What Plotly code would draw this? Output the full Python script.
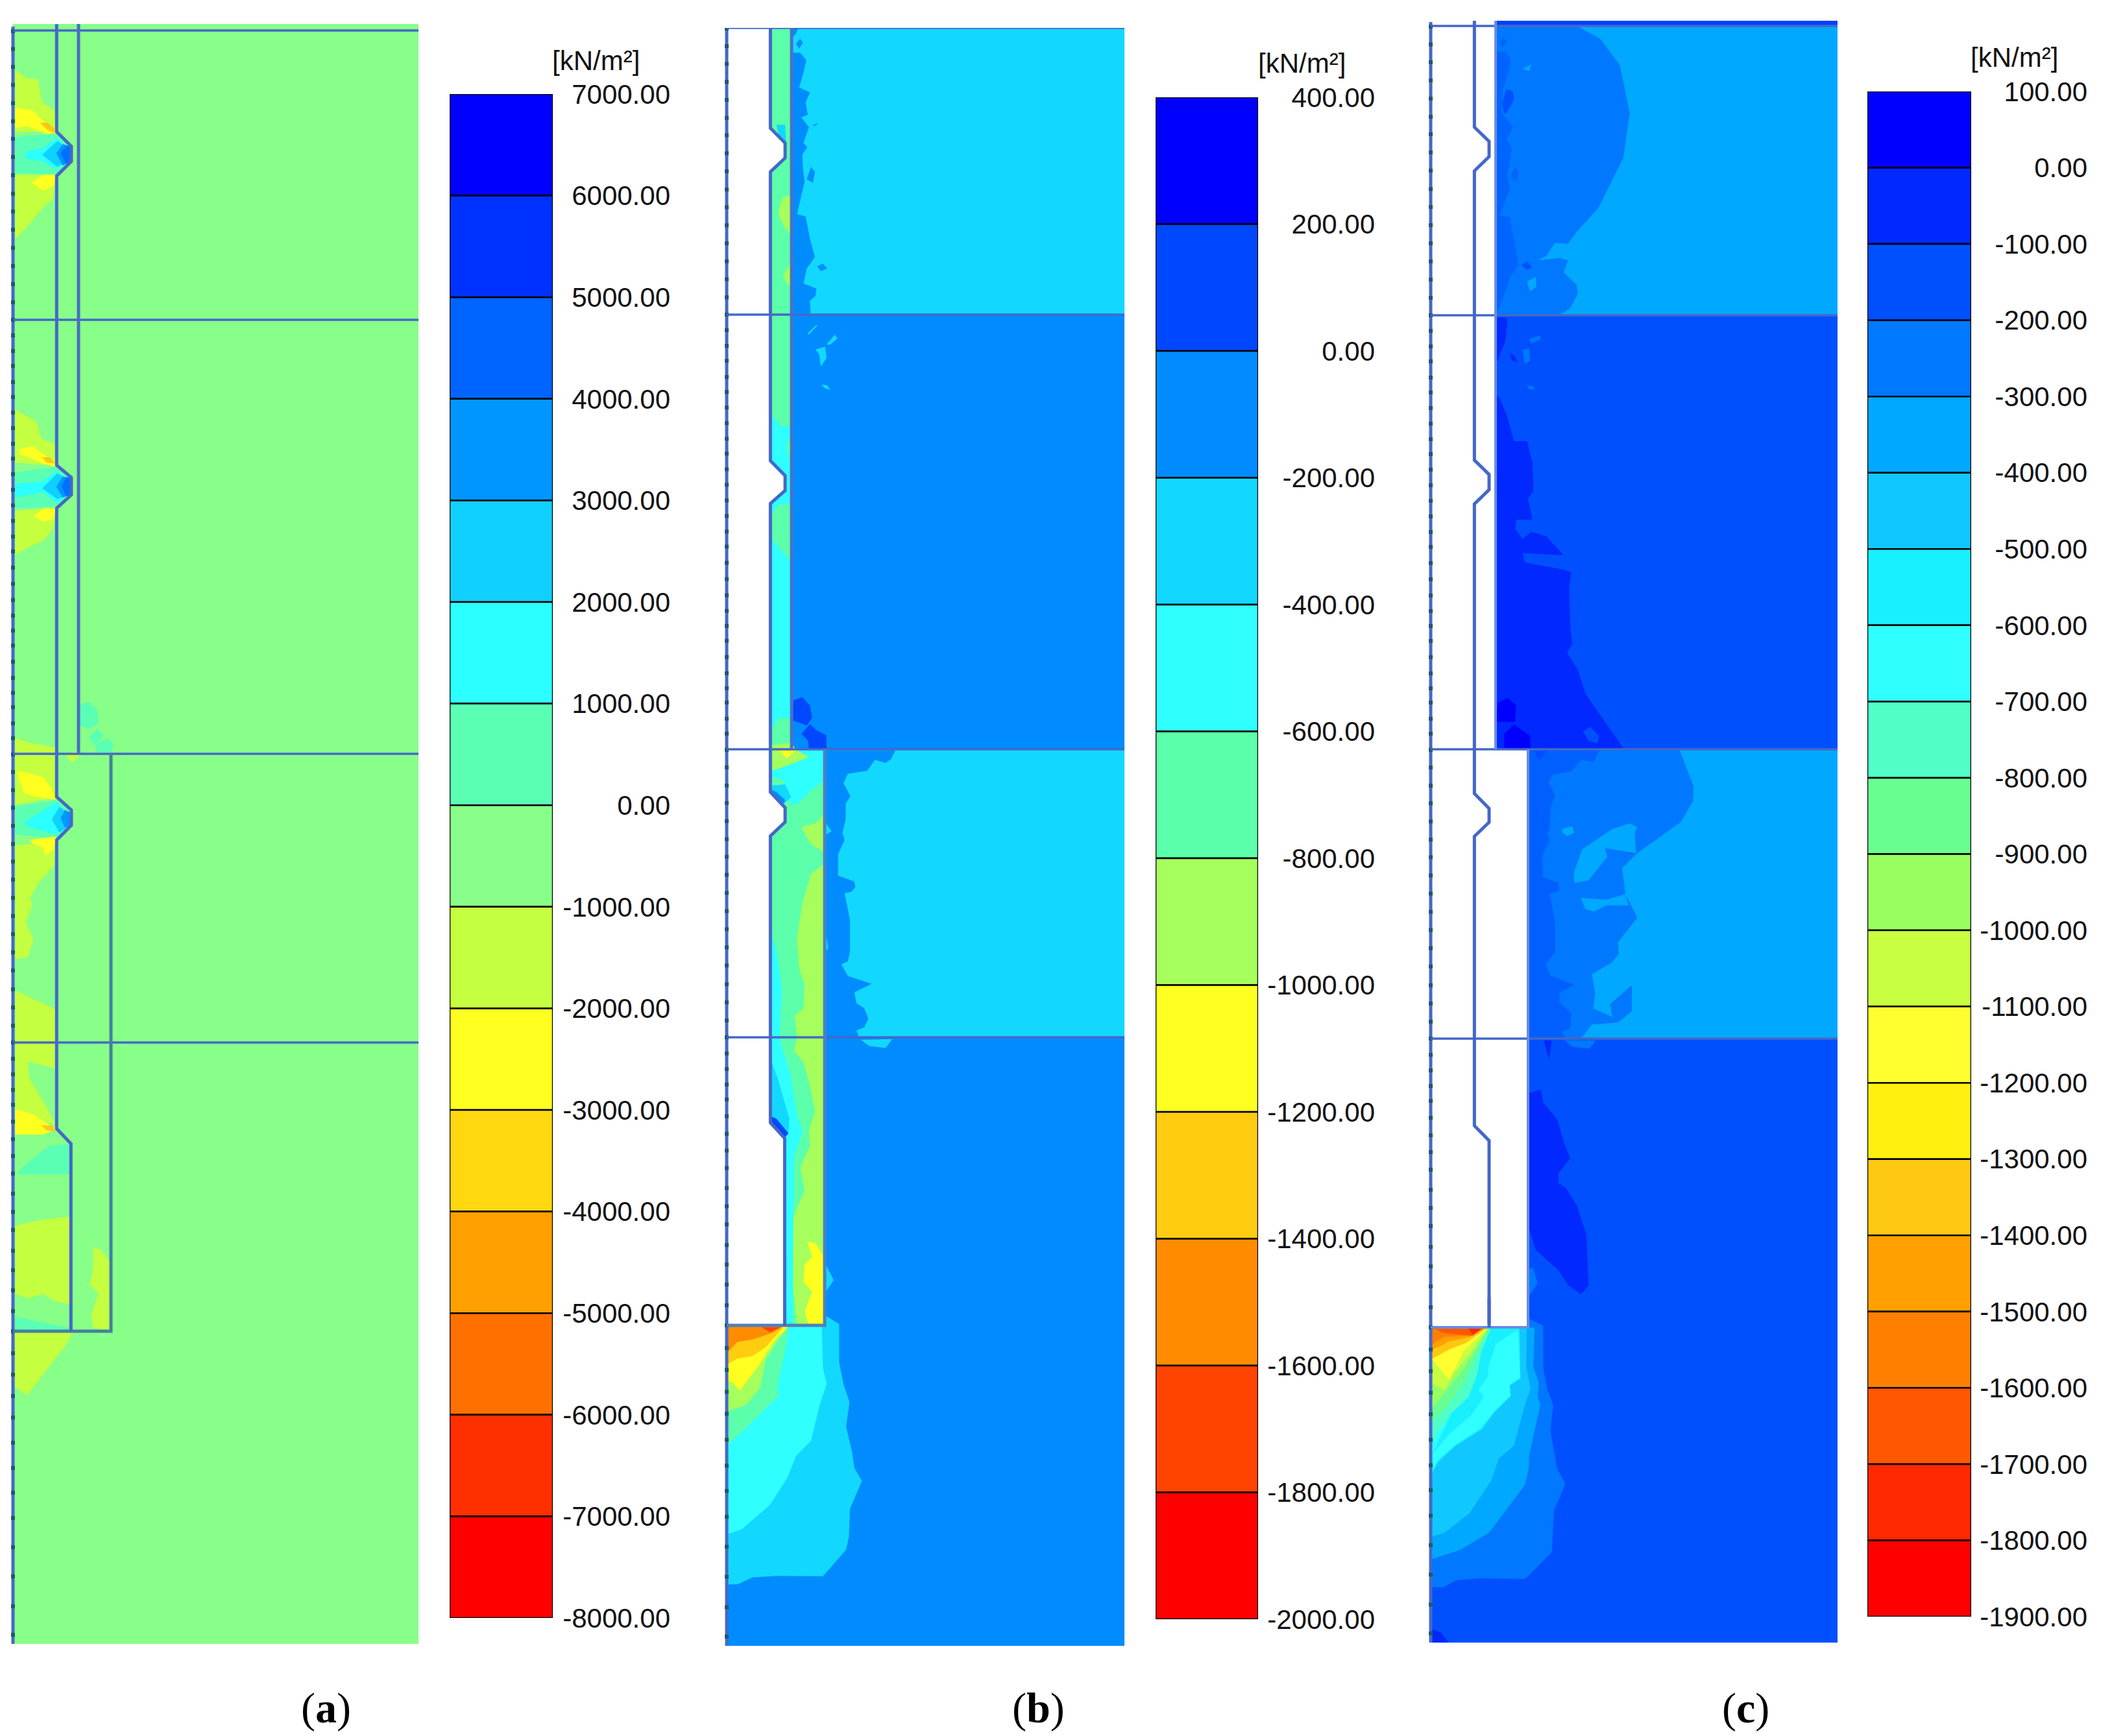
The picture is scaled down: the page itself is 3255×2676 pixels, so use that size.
import numpy as np
import plotly.graph_objects as go

W, H = 3255, 2676
PAD = 8  # default page margin around the plot
PW, PH = W - PAD, H - PAD


def fx(px):
    return (px - PAD) / PW


def fy(py):
    return 1 - (py - PAD) / PH


# digitising frames: (origin x, origin y, scale x, scale y) of each reading
FRAMES = {
    "PX": (0, 0, 1, 1),
    "Z1": (0, 0, 3, 1.2062), "Z2": (0, 1100, 3, 1.4255), "Z11": (0, 1950, 3, 2.6133),
    "Z3": (1100, 20, 3, 1.3067), "Z4": (1100, 1140, 3, 1.668), "Z5": (1100, 1950, 3, 2.529),
    "Z6": (2190, 20, 3, 1.3635), "Z7": (2190, 1140, 3, 1.742), "Z8": (2190, 2000, 3, 2.8),
}

LEVELS_A = [7000, 6000, 5000, 4000, 3000, 2000, 1000, 0, -1000, -2000, -3000, -4000, -5000, -6000, -7000, -8000]
COLORS_A = ["#0000FF", "#0032FF", "#0064FF", "#0096FF", "#10D0FF", "#2BFFFF", "#5AFFB4", "#88FF88",
            "#C4FF40", "#FFFF20", "#FFD810", "#FFA000", "#FF7000", "#FF3000", "#FF0000"]
LEVELS_B = [400, 200, 0, -200, -400, -600, -800, -1000, -1200, -1400, -1600, -1800, -2000]
COLORS_B = ["#0000FF", "#0048FF", "#008CFF", "#12D8FF", "#2FFFFF", "#5CFFAA", "#A6FF5C", "#FFFF20",
            "#FFCC10", "#FF8C00", "#FF4400", "#FF0000"]
LEVELS_C = [100, 0, -100, -200, -300, -400, -500, -600, -700, -800, -900, -1000, -1100, -1200, -1300,
            -1400, -1500, -1600, -1700, -1800, -1900]
COLORS_C = ["#0000FF", "#0028FF", "#0050FF", "#0078FF", "#00A8FF", "#10C8FF", "#18F0FF", "#30FFFF",
            "#50FFC8", "#68FF90", "#98FF60", "#C8FF40", "#FFFF30", "#FFF010", "#FFC810", "#FFA000",
            "#FF8000", "#FF5800", "#FF2800", "#FF0000"]

aG, aYG, aY, aOR, aTE, aC, aLB, aB3, aB2 = "#88FF88", "#C4FF40", "#FFFF20", "#FFC810", "#5AFFB4", "#2BFFFF", "#10D0FF", "#0096FF", "#0070FF"
bB1, bB2, bLB, bC, bTE, bYG, bY, bOC, bO, bR = "#0048FF", "#008CFF", "#12D8FF", "#2FFFFF", "#5CFFAA", "#A6FF5C", "#FFFF20", "#FFCC10", "#FF8C00", "#FF4400"
LINE_BLUE = "#4468C8"

FIELD_A = [
    ("PX", aG, [(20, 37), (645, 37), (645, 2534), (20, 2534)]),
    ("Z1", aYG, [(70, 130), (120, 145), (175, 148), (195, 190), (250, 205), (258, 245), (70, 245)]),
    ("Z1", aY, [(70, 200), (150, 205), (200, 225), (258, 240), (258, 258), (190, 245), (130, 235), (70, 238)]),
    ("Z1", aOR, [(185, 228), (220, 228), (255, 240), (250, 248), (215, 240)]),
    ("Z1", aTE, [(70, 255), (260, 248), (330, 270), (330, 300), (260, 325), (70, 322)]),
    ("Z1", aC, [(120, 282), (200, 275), (262, 256), (300, 270), (300, 305), (262, 315), (200, 300), (120, 295)]),
    ("Z1", aLB, [(195, 288), (265, 262), (310, 275), (310, 300), (265, 310)]),
    ("Z1", aB3, [(260, 285), (290, 268), (330, 272), (330, 300), (290, 308)]),
    ("Z1", aB2, [(280, 285), (305, 272), (332, 272), (332, 300), (305, 305)]),
    ("Z1", aYG, [(70, 325), (258, 325), (245, 370), (200, 385), (130, 420), (70, 445)]),
    ("Z1", aY, [(145, 340), (200, 325), (258, 325), (250, 345), (200, 355)]),
    ("Z1", aYG, [(70, 762), (130, 775), (170, 785), (190, 815), (250, 825), (258, 865), (70, 860)]),
    ("Z1", aY, [(90, 835), (150, 830), (200, 845), (258, 860), (255, 868), (200, 862), (130, 850), (90, 845)]),
    ("Z1", aOR, [(195, 850), (230, 850), (255, 862), (215, 860)]),
    ("Z1", aTE, [(70, 878), (260, 868), (330, 888), (330, 920), (260, 942), (70, 945)]),
    ("Z1", aC, [(70, 900), (200, 895), (262, 875), (300, 890), (300, 925), (262, 935), (200, 915), (70, 925)]),
    ("Z1", aLB, [(195, 908), (265, 880), (310, 890), (310, 922), (265, 928)]),
    ("Z1", aB3, [(260, 905), (290, 886), (330, 888), (330, 920), (290, 925)]),
    ("Z1", aB2, [(285, 905), (305, 888), (332, 888), (332, 920), (305, 922)]),
    ("Z1", aYG, [(70, 950), (258, 945), (245, 985), (200, 1005), (130, 1018), (70, 1032)]),
    ("Z1", aY, [(155, 960), (200, 945), (258, 945), (250, 965), (200, 970)]),
    ("Z1", aTE, [(365, 1310), (410, 1305), (450, 1320), (455, 1345), (420, 1355), (370, 1350)]),
    ("Z1", aTE, [(410, 1372), (450, 1355), (480, 1368), (440, 1385)]),
    ("Z1", aTE, [(440, 1385), (500, 1372), (525, 1385), (515, 1398), (445, 1398)]),
    ("Z1", aYG, [(70, 1372), (130, 1380), (260, 1390), (262, 1402), (70, 1402)]),
    ("Z1", aYG, [(300, 1402), (365, 1396), (375, 1402), (335, 1418)]),
    ("Z2", aYG, [(70, 88), (258, 88), (258, 185), (70, 200)]),
    ("Z2", aY, [(78, 128), (110, 128), (200, 140), (240, 165), (258, 190), (160, 182), (110, 175)]),
    ("Z2", aTE, [(70, 205), (260, 190), (330, 215), (330, 245), (260, 275), (70, 265)]),
    ("Z2", aC, [(110, 240), (260, 195), (300, 215), (300, 250), (260, 265), (140, 250)]),
    ("Z2", aLB, [(240, 232), (275, 205), (315, 218), (315, 248), (275, 262)]),
    ("Z2", aB3, [(280, 230), (300, 212), (332, 218), (332, 245), (300, 250)]),
    ("Z2", aYG, [(70, 290), (258, 280), (250, 335), (180, 370), (140, 405), (150, 420), (120, 460), (155, 495), (130, 535), (70, 540)]),
    ("Z2", aY, [(135, 278), (258, 270), (250, 298), (210, 312), (200, 295), (150, 285)]),
    ("Z2", aYG, [(70, 608), (258, 650), (258, 780), (130, 765), (135, 800), (210, 860), (258, 905), (70, 870)]),
    ("Z2", aY, [(70, 868), (150, 880), (258, 912), (200, 925), (70, 925)]),
    ("Z2", aOR, [(190, 905), (240, 905), (258, 918), (215, 915)]),
    ("Z2", aTE, [(75, 1012), (130, 985), (230, 950), (322, 945), (322, 1012)]),
    ("Z2", aYG, [(70, 1125), (200, 1112), (322, 1105), (322, 1298), (250, 1290), (200, 1275), (130, 1285), (70, 1275)]),
    ("Z2", aTE, [(70, 1325), (320, 1350), (320, 1357), (70, 1357)]),
    ("Z2", aYG, [(432, 1170), (470, 1180), (508, 1205), (508, 1355), (430, 1350), (422, 1320), (455, 1275), (415, 1255), (430, 1220)]),
    ("Z11", aYG, [(68, 272), (335, 272), (310, 315), (270, 360), (200, 440), (125, 525), (68, 490)]),
]
LINES_A = [
    ("PX", 3.5, LINE_BLUE, [(20, 47), (645, 47)]), ("PX", 3.5, LINE_BLUE, [(20, 493), (645, 493)]),
    ("PX", 3.5, LINE_BLUE, [(20, 1162), (645, 1162)]), ("PX", 3.5, LINE_BLUE, [(20, 1607), (645, 1607)]),
    ("PX", 5, "#4A70C0", [(121, 37), (121, 1162)]),
    ("PX", 5, "#44809F", [(171, 1162), (171, 2052), (20, 2052)]),
    ("Z1", 5, LINE_BLUE, [(262, 45), (262, 245), (330, 272), (330, 300), (262, 327), (262, 865), (330, 888), (330, 920), (262, 945), (262, 1402)]),
    ("Z2", 5, LINE_BLUE, [(262, 88), (262, 183), (330, 212), (330, 245), (262, 278), (262, 912), (328, 945), (328, 1357)]),
]

FIELD_B = [
    ("PX", bLB, [(1220, 43), (1733, 43), (1733, 485), (1220, 485)]),
    ("PX", bB2, [(1220, 485), (1733, 485), (1733, 1155), (1220, 1155)]),
    ("PX", bLB, [(1271, 1155), (1733, 1155), (1733, 1599), (1271, 1599)]),
    ("PX", bB2, [(1271, 1599), (1733, 1599), (1733, 2043), (1271, 2043)]),
    ("PX", bB2, [(1120, 2043), (1733, 2043), (1733, 2537), (1120, 2537)]),
    ("Z3", bTE, [(262, 30), (358, 30), (358, 1483), (262, 1483), (262, 988), (330, 962), (330, 932), (262, 902), (262, 320), (330, 292), (330, 262), (262, 232)]),
    ("Z3", bLB, [(290, 225), (330, 225), (335, 262), (300, 245)]),
    ("Z3", bYG, [(300, 395), (320, 370), (358, 368), (358, 448), (325, 430), (302, 410)]),
    ("Z3", bYG, [(320, 530), (352, 505), (358, 545), (345, 548)]),
    ("Z3", bC, [(265, 805), (300, 830), (358, 835), (358, 990), (300, 990), (265, 1010), (262, 988), (330, 962), (330, 932), (262, 902)]),
    ("Z3", bTE, [(335, 875), (350, 855), (358, 860), (358, 920), (345, 890)]),
    ("Z3", bC, [(265, 1060), (358, 1105), (358, 1420), (300, 1420), (265, 1445)]),
    ("Z3", bYG, [(265, 1475), (358, 1470), (380, 1483), (265, 1483)]),
    ("Z3", bB2, [(360, 80), (400, 80), (428, 95), (415, 120), (395, 150), (445, 160), (425, 180), (435, 205), (405, 210), (440, 230), (415, 262), (433, 270), (410, 285), (412, 310), (420, 340), (385, 405), (425, 410), (445, 455), (468, 492), (430, 515), (415, 545), (475, 555), (470, 570), (445, 580), (448, 608), (360, 608)]),
    ("Z3", bB2, [(380, 62), (400, 52), (412, 60), (395, 72)]),
    ("Z3", bB2, [(430, 335), (450, 310), (468, 320), (458, 342)]),
    ("Z3", bB2, [(478, 510), (505, 505), (525, 515), (495, 520)]),
    ("Z3", bB2, [(360, 30), (390, 32), (375, 45), (360, 48)]),
    ("Z3", bB2, [(460, 225), (485, 222), (465, 228)]),
    ("Z3", bLB, [(435, 645), (475, 628), (478, 630), (440, 648)]),
    ("Z3", bLB, [(470, 678), (515, 672), (522, 695), (495, 712), (488, 688)]),
    ("Z3", bLB, [(520, 668), (560, 648), (572, 655), (540, 668)]),
    ("Z3", bLB, [(500, 748), (525, 750), (540, 760), (510, 755)]),
    ("Z3", bB1, [(365, 1385), (410, 1378), (445, 1395), (455, 1420), (430, 1435), (365, 1425)]),
    ("Z3", bB1, [(405, 1452), (445, 1432), (475, 1445), (520, 1455), (522, 1482), (440, 1482), (435, 1465)]),
    ("Z4", bTE, [(262, 26), (510, 26), (510, 1507), (330, 1507), (330, 1025), (262, 985), (262, 248), (330, 212), (330, 175), (262, 135)]),
    ("Z4", bYG, [(270, 26), (510, 26), (460, 45), (350, 65), (272, 80)]),
    ("Z4", bY, [(300, 28), (380, 28), (340, 48)]),
    ("Z4", bC, [(380, 26), (510, 26), (510, 105), (440, 135), (390, 165), (355, 165), (325, 105), (270, 95), (270, 80), (350, 65), (440, 45)]),
    ("Z4", bLB, [(272, 118), (330, 115), (358, 148), (325, 165), (262, 135)]),
    ("Z4", bB2, [(272, 130), (290, 135), (330, 155), (325, 165), (262, 135)]),
    ("Z4", bYG, [(405, 225), (470, 215), (505, 195), (510, 290), (450, 270)]),
    ("Z4", bYG, [(510, 320), (450, 345), (410, 420), (385, 510), (395, 590), (420, 630), (415, 690), (375, 710), (385, 766), (370, 800), (415, 830), (440, 880), (468, 955), (440, 1005), (445, 1045), (400, 1100), (420, 1160), (365, 1230), (365, 1400), (385, 1507), (510, 1507)]),
    ("Z4", bC, [(265, 500), (290, 540), (315, 640), (305, 766), (320, 800), (355, 860), (385, 965), (410, 1010), (370, 1075), (365, 1507), (332, 1507), (332, 1030), (262, 985)]),
    ("Z4", bLB, [(268, 830), (295, 870), (350, 975), (345, 1015), (325, 1025), (262, 985)]),
    ("Z4", bB1, [(268, 970), (290, 975), (345, 1012), (325, 1025), (262, 988)]),
    ("Z4", bY, [(432, 1290), (470, 1295), (505, 1325), (508, 1507), (440, 1507), (420, 1470), (455, 1420), (415, 1395), (420, 1350), (455, 1330)]),
    ("Z4", bB2, [(512, 28), (840, 28), (820, 50), (795, 60), (745, 52), (710, 80), (620, 88), (600, 112), (632, 145), (610, 165), (610, 205), (595, 240), (605, 258), (575, 295), (575, 350), (650, 365), (655, 380), (635, 392), (605, 395), (630, 465), (630, 545), (620, 570), (590, 578), (620, 608), (730, 628), (650, 650), (660, 678), (695, 690), (715, 718), (695, 740), (660, 748), (672, 766), (512, 766)]),
    ("Z4", bLB, [(518, 215), (545, 235), (518, 245)]),
    ("Z4", bLB, [(518, 500), (530, 535), (518, 545)]),
    ("Z4", bLB, [(680, 772), (825, 770), (795, 793), (720, 788)]),
    ("Z4", bLB, [(518, 1350), (555, 1390), (518, 1420)]),
    ("Z5", bLB, [(65, 240), (510, 240), (512, 195), (580, 230), (580, 380), (600, 465), (628, 535), (612, 630), (640, 730), (650, 790), (685, 842), (630, 950), (625, 1060), (612, 1110), (505, 1213), (290, 1212), (180, 1218), (110, 1245), (65, 1245)]),
    ("Z5", bC, [(65, 240), (500, 240), (505, 400), (522, 465), (490, 545), (450, 685), (380, 745), (340, 830), (260, 935), (130, 1030), (65, 1048)]),
    ("Z5", bTE, [(65, 240), (345, 240), (340, 290), (320, 370), (295, 470), (300, 510), (240, 560), (150, 635), (65, 700)]),
    ("Z5", bYG, [(65, 240), (345, 240), (300, 290), (240, 370), (215, 480), (150, 545), (65, 570)]),
    ("Z5", bY, [(65, 240), (345, 240), (280, 295), (210, 390), (120, 490), (90, 460), (65, 450)]),
    ("Z5", bOC, [(65, 240), (320, 245), (240, 320), (180, 355), (110, 365), (65, 385)]),
    ("Z5", bO, [(65, 240), (320, 240), (270, 265), (180, 290), (110, 300), (65, 340)]),
    ("Z5", bR, [(220, 242), (310, 242), (260, 262)]),
]
LINES_B = [
    ("PX", 3.5, LINE_BLUE, [(1120, 43), (1733, 43)]), ("PX", 3.5, LINE_BLUE, [(1120, 485), (1733, 485)]),
    ("PX", 3.5, LINE_BLUE, [(1120, 1155), (1733, 1155)]), ("PX", 3.5, LINE_BLUE, [(1120, 1599), (1733, 1599)]),
    ("PX", 5, "#4A70C8", [(1220, 43), (1220, 1155)]),
    ("PX", 5, "#4F7FBF", [(1271, 1155), (1271, 2043), (1120, 2043)]),
    ("Z3", 5, LINE_BLUE, [(262, 30), (262, 232), (330, 262), (330, 292), (262, 320), (262, 902), (330, 932), (330, 962), (262, 988), (262, 1483)]),
    ("Z4", 5, LINE_BLUE, [(262, 26), (262, 135), (330, 175), (330, 212), (262, 248), (262, 985), (328, 1025), (328, 1507)]),
]

c0, c1, c2, c3, c4, c5, c6, c7, c8, c9 = "#0000FF", "#0028FF", "#0050FF", "#0078FF", "#00A8FF", "#10C8FF", "#18F0FF", "#30FFFF", "#50FFC8", "#68FF90"
FIELD_C = [
    ("PX", "#0040FF", [(2305, 32), (2832, 32), (2832, 41), (2305, 41)]),
    ("PX", c4, [(2305, 40), (2832, 40), (2832, 486), (2305, 486)]),
    ("PX", c2, [(2305, 486), (2832, 486), (2832, 1155), (2305, 1155)]),
    ("PX", c4, [(2355, 1155), (2832, 1155), (2832, 1601), (2355, 1601)]),
    ("PX", c2, [(2355, 1601), (2832, 1601), (2832, 2046), (2355, 2046)]),
    ("PX", c2, [(2205, 2046), (2832, 2046), (2832, 2532), (2205, 2532)]),
    ("Z6", c3, [(345, 27), (720, 27), (830, 55), (920, 110), (965, 210), (935, 305), (820, 410), (720, 460), (680, 485), (620, 483), (580, 510), (540, 520), (640, 515), (680, 520), (660, 545), (720, 572), (725, 590), (690, 620), (640, 635), (345, 635)]),
    ("Z6", "#0064FF", [(345, 80), (395, 82), (415, 100), (400, 130), (375, 165), (375, 210), (425, 240), (395, 265), (420, 285), (400, 340), (410, 370), (365, 425), (410, 430), (440, 500), (450, 530), (410, 555), (400, 575), (345, 635)]),
    ("Z6", "#0064FF", [(362, 60), (385, 52), (398, 62), (375, 72)]),
    ("Z6", c4, [(470, 118), (510, 108), (500, 122)]),
    ("Z6", c2, [(375, 190), (395, 160), (425, 165), (430, 180), (415, 195), (395, 210), (385, 210)]),
    ("Z6", "#0064FF", [(415, 345), (435, 322), (452, 335), (440, 355)]),
    ("Z6", c2, [(465, 530), (490, 522), (515, 535), (490, 540)]),
    ("Z6", c4, [(490, 565), (530, 555), (535, 575), (505, 585)]),
    ("Z6", c1, [(345, 800), (365, 810), (400, 850), (430, 900), (490, 900), (515, 945), (520, 1005), (495, 1020), (515, 1065), (440, 1065), (435, 1085), (470, 1105), (510, 1090), (580, 1100), (660, 1140), (470, 1135), (480, 1155), (660, 1170), (695, 1175), (685, 1210), (690, 1290), (700, 1325), (675, 1345), (725, 1380), (760, 1430), (850, 1490), (940, 1548), (345, 1548)]),
    ("Z6", c1, [(345, 640), (400, 640), (390, 690), (350, 735), (345, 735)]),
    ("Z6", c0, [(355, 1450), (400, 1440), (440, 1455), (435, 1490), (345, 1490)]),
    ("Z6", c0, [(385, 1515), (430, 1495), (505, 1520), (505, 1545), (385, 1545)]),
    ("Z6", c2, [(750, 1510), (780, 1500), (825, 1520), (815, 1535), (775, 1530)]),
    ("Z6", c3, [(500, 685), (550, 678), (555, 685), (510, 695)]),
    ("Z6", c3, [(470, 708), (500, 705), (505, 730), (480, 738)]),
    ("Z6", c3, [(490, 782), (520, 785), (525, 792), (500, 790)]),
    ("Z6", c1, [(410, 715), (430, 720), (445, 735), (420, 730)]),
    ("Z7", c3, [(495, 28), (1195, 28), (1260, 125), (1258, 165), (1200, 222), (1000, 305), (930, 345), (945, 415), (1000, 478), (945, 520), (910, 545), (915, 575), (880, 600), (790, 630), (975, 660), (975, 730), (910, 760), (790, 765), (740, 803), (495, 803)]),
    ("Z7", c4, [(745, 295), (885, 240), (965, 225), (1000, 235), (988, 250), (995, 305), (850, 292), (862, 315), (775, 378), (710, 385), (705, 360)]),
    ("Z7", c4, [(738, 425), (860, 430), (945, 415), (960, 445), (860, 445), (800, 462), (760, 455)]),
    ("Z7", c4, [(790, 630), (880, 600), (960, 640), (975, 660), (875, 710), (885, 745), (797, 722), (805, 680)]),
    ("Z7", c4, [(652, 240), (700, 232), (708, 250), (675, 260), (655, 250)]),
    ("Z7", "#0060FF", [(495, 28), (825, 28), (800, 60), (740, 55), (695, 85), (610, 95), (590, 115), (620, 150), (600, 180), (595, 240), (585, 250), (595, 270), (560, 315), (565, 370), (635, 385), (640, 405), (595, 415), (620, 490), (620, 570), (575, 605), (600, 635), (710, 658), (640, 680), (640, 705), (695, 735), (690, 775), (650, 785), (670, 803), (495, 803)]),
    ("Z7", c2, [(520, 28), (585, 30), (545, 58)]),
    ("Z7", c3, [(665, 808), (810, 808), (780, 830), (700, 825)]),
    ("Z7", c1, [(568, 808), (605, 808), (592, 860)]),
    ("Z7", c1, [(498, 950), (555, 940), (565, 975), (630, 1020), (660, 1080), (690, 1125), (635, 1165), (635, 1190), (670, 1205), (720, 1250), (765, 1330), (775, 1465), (740, 1490), (680, 1465), (635, 1425), (530, 1370), (498, 1310)]),
    ("Z7", c3, [(498, 1420), (520, 1420), (540, 1460), (505, 1490), (498, 1490)]),
    ("Z8", c3, [(50, 130), (495, 130), (495, 90), (565, 122), (565, 300), (585, 400), (612, 465), (598, 575), (630, 740), (668, 805), (615, 920), (605, 1100), (482, 1215), (280, 1212), (165, 1220), (100, 1252), (50, 1250)]),
    ("Z8", c4, [(50, 130), (525, 130), (520, 300), (545, 370), (540, 430), (552, 465), (500, 680), (498, 740), (480, 810), (400, 910), (315, 1015), (180, 1090), (50, 1130)]),
    ("Z8", c5, [(50, 130), (490, 130), (487, 300), (507, 395), (480, 465), (430, 640), (360, 695), (325, 790), (225, 930), (110, 1015), (50, 1032)]),
    ("Z8", c6, [(50, 130), (455, 130), (460, 350), (410, 380), (415, 425), (340, 495), (280, 570), (160, 640), (80, 710), (50, 760)]),
    ("Z8", c7, [(50, 130), (330, 130), (350, 200), (410, 160), (450, 140), (458, 345), (410, 378), (415, 425), (340, 490), (275, 565), (160, 635), (80, 700), (50, 750)]),
    ("Z8", c6, [(325, 130), (350, 135), (345, 205), (312, 300), (310, 340), (265, 400), (290, 430), (230, 510), (130, 590), (50, 680)]),
    ("Z8", c8, [(50, 130), (325, 130), (280, 230), (260, 330), (220, 430), (140, 500), (50, 620)]),
    ("Z8", c9, [(50, 130), (320, 130), (260, 240), (210, 350), (130, 460), (50, 540)]),
    ("Z8", "#98FF60", [(50, 130), (315, 130), (250, 230), (190, 320), (110, 410), (50, 480)]),
    ("Z8", "#C8FF40", [(50, 130), (310, 130), (230, 240), (150, 330), (110, 400), (50, 370)]),
    ("Z8", "#FFFF30", [(50, 130), (305, 135), (200, 230), (130, 355), (50, 265)]),
    ("Z8", "#FFC810", [(50, 130), (300, 135), (210, 195), (130, 225), (50, 265)]),
    ("Z8", "#FFA000", [(50, 130), (290, 135), (230, 170), (130, 190), (100, 205), (50, 225)]),
    ("Z8", "#FF8000", [(50, 135), (290, 135), (230, 165), (110, 170), (70, 190), (50, 205)]),
    ("Z8", "#FF5800", [(60, 135), (280, 135), (240, 165), (110, 155)]),
    ("Z8", "#FF2800", [(220, 135), (280, 135), (240, 160)]),
    ("Z8", c1, [(50, 1490), (50, 1430), (90, 1445), (130, 1490)]),
]
LINES_C = [
    ("PX", 3.5, LINE_BLUE, [(2205, 40), (2832, 40)]), ("PX", 3.5, LINE_BLUE, [(2205, 486), (2832, 486)]),
    ("PX", 3.5, LINE_BLUE, [(2205, 1155), (2832, 1155)]), ("PX", 3.5, LINE_BLUE, [(2205, 1601), (2832, 1601)]),
    ("PX", 4, "#6A8CE0", [(2305, 32), (2305, 1155)]),
    ("PX", 4, "#6A8CE0", [(2355, 1155), (2355, 2046), (2205, 2046)]),
    ("Z6", 5, LINE_BLUE, [(247, 16), (247, 240), (315, 270), (315, 302), (247, 332), (247, 940), (315, 970), (315, 1002), (247, 1032), (247, 1548)]),
    ("Z7", 5, LINE_BLUE, [(247, 28), (247, 145), (315, 185), (315, 222), (247, 260), (247, 1037), (315, 1077), (315, 1568)]),
    ("Z8", 5, LINE_BLUE, [(315, 0), (315, 130)]),
]

# pile nodes along the left edge, read on panel (a)
NODE_Y_A = [48, 75.5, 103, 131, 159, 187, 214, 242, 270, 298.5, 326, 354, 382, 410, 438, 466, 493,
            517, 541, 564, 589, 612, 636, 660, 684, 707, 731, 755, 779, 803, 827, 850, 875, 900, 925,
            949, 972, 995, 1020, 1045, 1068, 1090, 1115, 1138, 1163, 1190, 1218, 1245, 1273, 1301,
            1328, 1356, 1384, 1412, 1440, 1468, 1496, 1525, 1553, 1581, 1607, 1632, 1656, 1680, 1703,
            1729, 1756, 1782, 1809, 1840, 1868, 1896, 1928, 1958, 1989, 2021, 2052, 2086, 2119, 2152,
            2185, 2224, 2263, 2301, 2340, 2385, 2430, 2476, 2520]
LAYER_Y_A = [47, 493, 1162, 1607, 2052, 2534]
LAYER_Y_B = [43, 485, 1155, 1599, 2043, 2537]
LAYER_Y_C = [40, 486, 1155, 1601, 2046, 2532]

PANELS = [
    dict(name="a", field=FIELD_A, lines=LINES_A, box=(10, 37, 645, 2534), pile_x=20, layers=LAYER_Y_A,
         cbar=(693, 852, 145, 2494), levels=LEVELS_A, colors=COLORS_A, label_x=1033, unit=(918, 93), cap=502),
    dict(name="b", field=FIELD_B, lines=LINES_B, box=(1110, 43, 1733, 2537), pile_x=1120, layers=LAYER_Y_B,
         cbar=(1781, 1939, 150, 2496), levels=LEVELS_B, colors=COLORS_B, label_x=2119, unit=(2006, 97), cap=1600),
    dict(name="c", field=FIELD_C, lines=LINES_C, box=(2195, 32, 2832, 2532), pile_x=2205, layers=LAYER_Y_C,
         cbar=(2878, 3038, 141, 2492), levels=LEVELS_C, colors=COLORS_C, label_x=3217, unit=(3104, 88), cap=2690),
]


def conv(frame, pts):
    ox, oy, sx, sy = FRAMES[frame]
    return [ox + p[0] / sx for p in pts], [oy + p[1] / sy for p in pts]


fig = go.Figure()
layout = {}
for i, p in enumerate(PANELS):
    fa, fb = 2 * i + 1, 2 * i + 2
    xa, ya = f"x{fa}", f"y{fa}"
    L, T, R, B = p["box"]
    layout[f"xaxis{fa}"] = dict(domain=[fx(L), fx(R)], range=[L, R], visible=False, fixedrange=True, automargin=False)
    layout[f"yaxis{fa}"] = dict(domain=[fy(B), fy(T)], range=[B, T], visible=False, fixedrange=True, anchor=xa, automargin=False)
    for fr, col, pts in p["field"]:
        x, y = conv(fr, pts)
        fig.add_trace(go.Scatter(x=x + x[:1], y=y + y[:1], mode="lines", fill="toself", fillcolor=col,
                                 line=dict(width=0), hoverinfo="skip", showlegend=False, xaxis=xa, yaxis=ya))
    fig.add_trace(go.Scatter(x=[p["pile_x"]] * 2, y=[p["layers"][0] - 6, B], mode="lines",
                             line=dict(width=5, color=LINE_BLUE), hoverinfo="skip", showlegend=False, xaxis=xa, yaxis=ya))
    node_y = np.interp(NODE_Y_A, LAYER_Y_A, p["layers"])
    fig.add_trace(go.Scatter(x=[p["pile_x"]] * len(node_y), y=node_y, mode="markers",
                             marker=dict(symbol="square", size=6, color="#1E5A6A", line=dict(width=0)),
                             hoverinfo="skip", showlegend=False, xaxis=xa, yaxis=ya))
    for fr, w, col, pts in p["lines"]:
        x, y = conv(fr, pts)
        fig.add_trace(go.Scatter(x=x, y=y, mode="lines", line=dict(width=w, color=col), hoverinfo="skip",
                                 showlegend=False, xaxis=xa, yaxis=ya))
    # stepped legend
    x0, x1, y0, y1 = p["cbar"]
    lv = p["levels"]
    xb, yb = f"x{fb}", f"y{fb}"
    layout[f"xaxis{fb}"] = dict(domain=[fx(x0), fx(x1)], range=[0, 1], visible=False, fixedrange=True, automargin=False)
    layout[f"yaxis{fb}"] = dict(domain=[fy(y1), fy(y0)], range=[lv[-1], lv[0]], anchor="free", automargin=False,
                                position=fx(p["label_x"]), side="left", showgrid=False, zeroline=False,
                                showline=False, ticks="", tickmode="array", tickvals=lv,
                                ticktext=[f"{v:.2f}" for v in lv], fixedrange=True,
                                tickfont=dict(family="Liberation Sans", size=42, color="#111111"))
    for k, col in enumerate(p["colors"]):
        fig.add_trace(go.Bar(x=[0.5], y=[lv[k] - lv[k + 1]], base=[lv[k + 1]], width=[1], marker=dict(color=col, line=dict(color="#000000", width=2.5)),
                             cliponaxis=False, hoverinfo="skip", showlegend=False, xaxis=xb, yaxis=yb))

annotations = []
for p in PANELS:
    annotations.append(dict(x=fx(p["unit"][0]), y=fy(p["unit"][1]), xref="paper", yref="paper", text="[kN/m²]",
                            showarrow=False, xanchor="center", yanchor="middle",
                            font=dict(family="Liberation Sans", size=42, color="#111111")))
    annotations.append(dict(x=fx(p["cap"]), y=fy(2633), xref="paper", yref="paper", text=f"(<b>{p['name']}</b>)",
                            showarrow=False, xanchor="center", yanchor="middle",
                            font=dict(family="Liberation Serif", size=66, color="#000000")))

fig.update_layout(width=PW, height=PH, margin=dict(l=0, r=0, t=0, b=0), paper_bgcolor="white", plot_bgcolor="white",
                  barmode="overlay", annotations=annotations, showlegend=False, **layout)
fig.write_html("out.html")
